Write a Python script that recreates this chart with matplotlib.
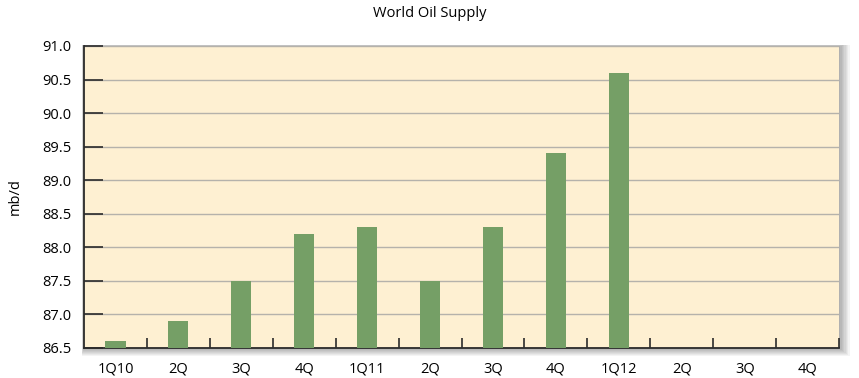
import matplotlib.pyplot as plt
from matplotlib.patches import Rectangle

categories = ['1Q10', '2Q', '3Q', '4Q', '1Q11', '2Q', '3Q', '4Q', '1Q12', '2Q', '3Q', '4Q']
supply = [86.6, 86.9, 87.5, 88.2, 88.3, 87.5, 88.3, 89.4, 90.6]
y_ticks = [86.5, 87.0, 87.5, 88.0, 88.5, 89.0, 89.5, 90.0, 90.5, 91.0]

plt.rcParams['font.family'] = ['Open Sans', 'DejaVu Sans']

fig = plt.figure(figsize=(8.59, 3.78), dpi=100)
box = [0.0978, 0.0794, 0.879, 0.799]
ax = fig.add_axes(box)
ax.set_zorder(2)

# soft drop shadow behind the plot box
for i in range(8):
    off = (i + 1) * 0.0012
    fig.patches.append(Rectangle((box[0] - off * 0.3, box[1] - off * 2.2), box[2] + off * 1.6, box[3] + off * 2.6,
                                 transform=fig.transFigure, facecolor='black', alpha=0.045,
                                 edgecolor='none', zorder=0))

ax.set_facecolor('#fef0d2')
x = list(range(len(supply)))
ax.bar(x, [v - 86.5 for v in supply], bottom=86.5, width=0.32, color='#759f66', zorder=3)

ax.set_xlim(-0.5, len(categories) - 0.5)
ax.set_ylim(86.5, 91.0)
ax.set_yticks(y_ticks)
ax.set_yticklabels(['%.1f' % t for t in y_ticks], fontsize=10.5)
ax.yaxis.grid(True, color='#b5b2ab', linewidth=1.0, zorder=1)

ax.set_xticks(range(len(categories)))
ax.set_xticklabels(categories, fontsize=10.5)
ax.tick_params(axis='x', length=0, pad=10)
ax.set_xticks([i + 0.5 for i in range(len(categories))], minor=True)
ax.tick_params(axis='x', which='minor', direction='in', length=7, width=1.2, color='#2b2b2b')
ax.tick_params(axis='y', direction='in', length=14, width=1.2, color='#2b2b2b', pad=9)

for s in ['top', 'right']:
    ax.spines[s].set_visible(False)
for s in ['left', 'bottom']:
    ax.spines[s].set_color('#2b2b2b')
    ax.spines[s].set_linewidth(1.3)

ax.set_ylabel('mb/d', fontsize=10.5, labelpad=14)
fig.text(0.5, 0.965, 'World Oil Supply', ha='center', va='center', fontsize=10.5)

fig.savefig('out.png', dpi=100)
